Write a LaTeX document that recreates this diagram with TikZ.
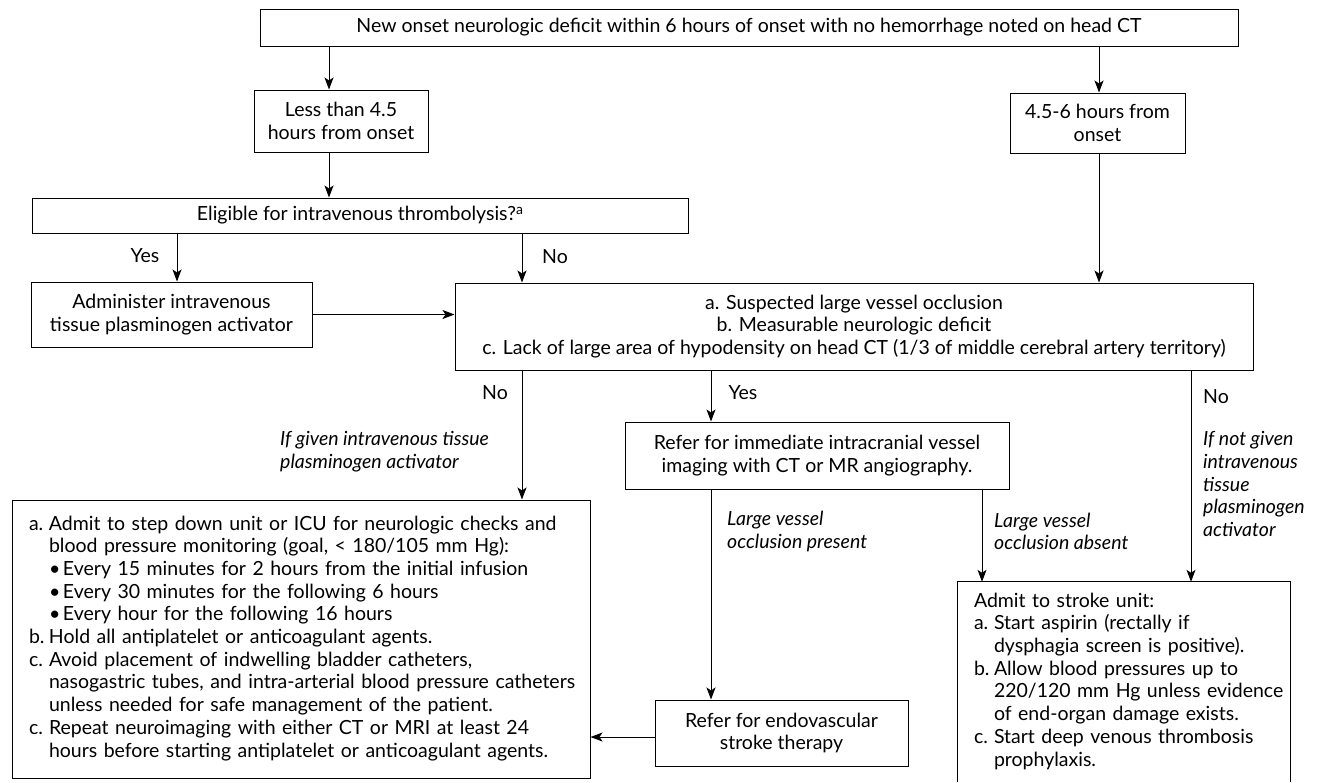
\documentclass[tikz,border=0pt]{standalone}
\usepackage{fontspec}
\setmainfont{Lato}
\usetikzlibrary{arrows.meta}
\newcommand\myfs{\fontsize{19.5}{22.7}\selectfont}
\begin{document}
\begin{tikzpicture}[x=1pt,y=-1pt,
  box/.style={draw,line width=1pt,inner sep=0pt,align=center,font=\myfs},
  lbl/.style={inner sep=0pt,font=\myfs},
  note/.style={inner sep=0pt,align=left,font=\myfs\itshape},
  conn/.style={line width=1pt},
  arr/.style={conn,-{Stealth[length=12pt,width=9pt,inset=3pt]}}
]
\useasboundingbox[fill=white] (0,0) rectangle (1330,782);

% lanes
\coordinate (xL) at (329,0);
\coordinate (xR) at (1099,0);
\coordinate (xY) at (177,0);
\coordinate (xN) at (522,0);
\coordinate (xC) at (711,0);
\coordinate (xA) at (982,0);
\coordinate (xS) at (1191,0);
\coordinate (yE) at (0,737);

% boxes
\node[box,minimum width=978pt,minimum height=37pt] (top) at (749,27.5)
  {New onset neurologic deficit within 6 hours of onset with no hemorrhage noted on head CT};
\node[box,minimum width=174pt,minimum height=62pt] (less) at (341,121)
  {Less than 4.5\\hours from onset};
\node[box,minimum width=175pt,minimum height=60pt] (late) at (1097.5,123)
  {4.5-6 hours from\\onset};
\node[box,minimum width=656pt,minimum height=35pt] (elig) at (360,215.5)
  {Eligible for intravenous thrombolysis?\raisebox{6pt}{\fontsize{14}{14}\selectfont a}};
\node[box,minimum width=281pt,minimum height=65pt] (tpa) at (171.5,314.5)
  {Administer intravenous\\tissue plasminogen activator};
\node[box,minimum width=798pt,minimum height=87pt] (crit) at (854,326.5)
  {a. Suspected large vessel occlusion\\
   b. Measurable neurologic deficit\\
   c. Lack of large area of hypodensity on head CT (1/3 of middle cerebral artery territory)};
\node[box,minimum width=384pt,minimum height=67pt] (cta) at (817,455.5)
  {Refer for immediate intracranial vessel\\imaging with CT or MR angiography.};
\node[box,minimum width=253pt,minimum height=66pt] (evt) at (781.5,733)
  {Refer for endovascular\\stroke therapy};
\node[box,minimum width=578pt,minimum height=278pt,text width=544pt,align=left,inner xsep=17pt] (icu) at (301,639)
  {\begin{tabular}{@{}l@{}}
   \makebox[20pt][l]{a.}Admit to step down unit or ICU for neurologic checks and\\
   \hspace*{20pt}blood pressure monitoring (goal, < 180/105 mm Hg):\\
   \hspace*{20pt}\makebox[14pt][l]{\textbullet}Every 15 minutes for 2 hours from the initial infusion\\
   \hspace*{20pt}\makebox[14pt][l]{\textbullet}Every 30 minutes for the following 6 hours\\
   \hspace*{20pt}\makebox[14pt][l]{\textbullet}Every hour for the following 16 hours\\
   \makebox[20pt][l]{b.}Hold all antiplatelet or anticoagulant agents.\\
   \makebox[20pt][l]{c.}Avoid placement of indwelling bladder catheters,\\
   \hspace*{20pt}nasogastric tubes, and intra-arterial blood pressure catheters\\
   \hspace*{20pt}unless needed for safe management of the patient.\\
   \makebox[20pt][l]{c.}Repeat neuroimaging with either CT or MRI at least 24\\
   \hspace*{20pt}hours before starting antiplatelet or anticoagulant agents.
   \end{tabular}\par\vspace*{-12pt}};
\node[lbl,minimum width=332pt,minimum height=200pt,text width=300pt,inner xsep=16pt,align=left] (su) at (1124,682)
  {\begin{tabular}{@{}l@{}}
   Admit to stroke unit:\\
   \makebox[20pt][l]{a.}Start aspirin (rectally if\\
   \hspace*{20pt}dysphagia screen is positive).\\
   \makebox[20pt][l]{b.}Allow blood pressures up to\\
   \hspace*{20pt}220/120 mm Hg unless evidence\\
   \hspace*{20pt}of end-organ damage exists.\\
   \makebox[20pt][l]{c.}Start deep venous thrombosis\\
   \hspace*{20pt}prophylaxis.
   \end{tabular}\par\vspace*{-6pt}};
\draw[conn] (su.south west) -- (su.north west) -- (su.north east) -- (su.south east);

% labels
\node[lbl] (lyes1) at (145,256) {Yes};
\node[lbl] (lno1) at (555,257) {No};
\node[lbl] (lno2) at (495,393) {No};
\node[lbl] (lyes2) at (743,393) {Yes};
\node[lbl,anchor=west] (lno3) at (1203,397) {No};
\node[note,anchor=west] (ngiven) at (280,452) {If given intravenous tissue\\plasminogen activator};
\node[note,anchor=west] (nnot) at (1203,484) {If not given\\intravenous\\tissue\\plasminogen\\activator};
\node[note,anchor=west] (npres) at (727,531.5) {Large vessel\\occlusion present};
\node[note,anchor=west] (nabs) at (994,531.5) {Large vessel\\occlusion absent};

% connectors
\draw[arr] (top.south -| xL) -- (less.north -| xL);
\draw[arr] (less.south -| xL) -- (elig.north -| xL);
\draw[arr] (top.south -| xR) -- (late.north -| xR);
\draw[arr] (late.south -| xR) -- (crit.north -| xR);
\draw[arr] (elig.south -| xY) -- (tpa.north -| xY);
\draw[arr] (elig.south -| xN) -- (crit.north -| xN);
\draw[arr] (tpa.east) -- (tpa.east -| crit.west);
\draw[arr] (crit.south -| xN) -- (icu.north -| xN);
\draw[arr] (crit.south -| xC) -- (cta.north -| xC);
\draw[arr] (crit.south -| xS) -- (su.north -| xS);
\draw[arr] (cta.south -| xC) -- (evt.north -| xC);
\draw[arr] (cta.south -| xA) -- (su.north -| xA);
\draw[arr] (evt.west |- yE) -- (icu.east |- yE);
\end{tikzpicture}
\end{document}
